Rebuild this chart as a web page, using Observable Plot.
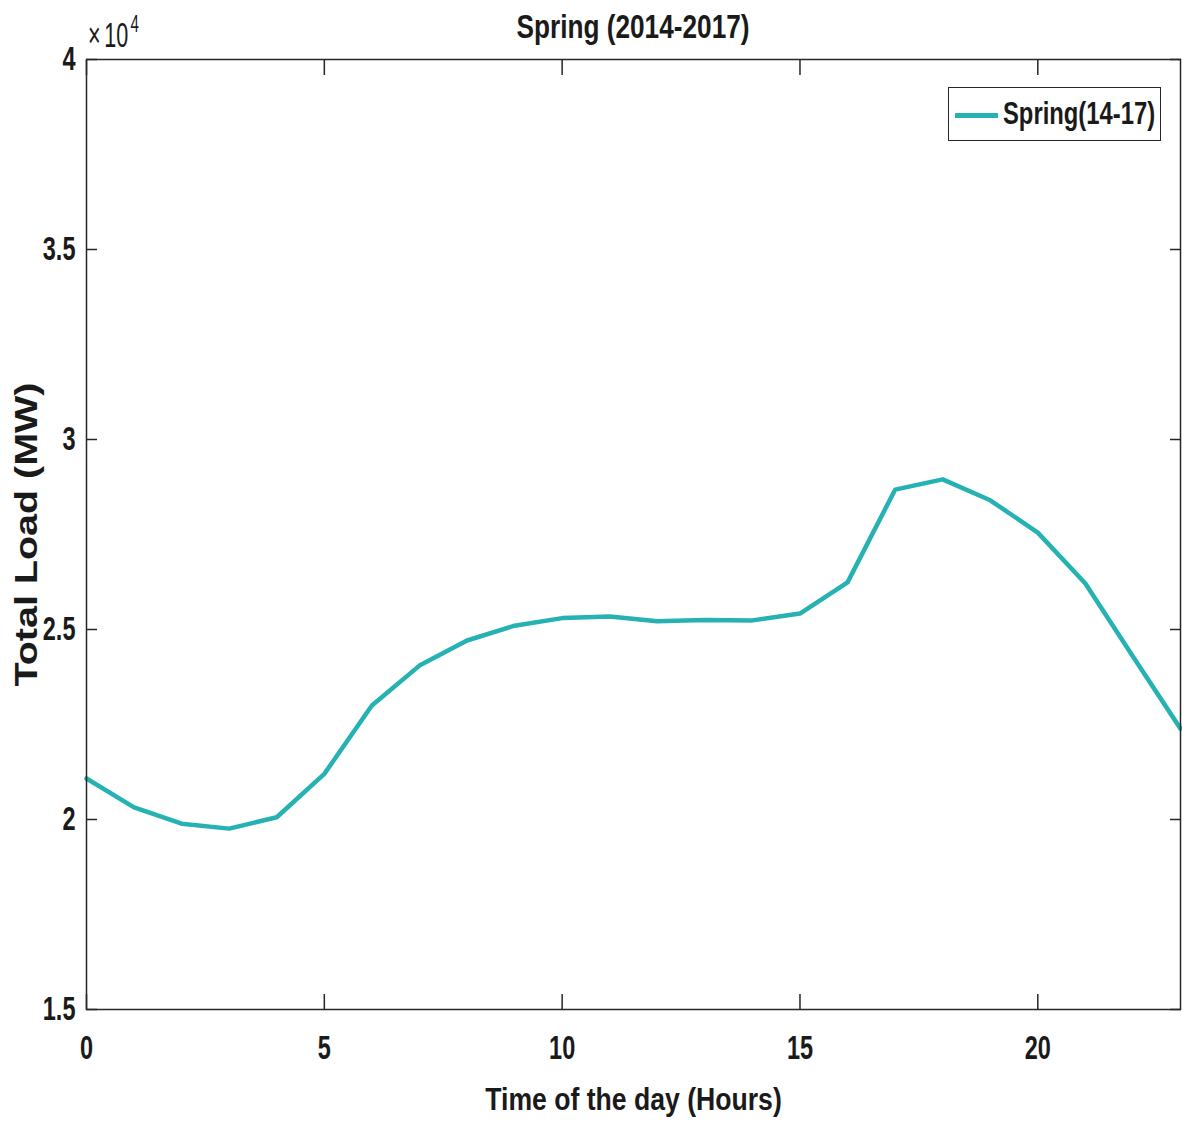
<!DOCTYPE html>
<html>
<head>
<meta charset="utf-8">
<script src="https://cdn.jsdelivr.net/npm/d3@7"></script>
<script src="https://cdn.jsdelivr.net/npm/@observablehq/plot@0.6"></script>
<style>
  body { margin: 0; background: #fff; }
  #wrap { position: relative; width: 1182px; height: 1126px; font-family: "Liberation Sans", Arial, sans-serif; color: #1a1a1a; }
  #title { position: absolute; left: 86px; width: 1094px; top: 13px; text-align: center; font-size: 28px; line-height: 28px; font-weight: bold; transform: scale(0.936, 1.2); transform-origin: center center; white-space: nowrap; }
  #expo { position: absolute; left: 88px; top: 21px; font-size: 30px; line-height: 30px; font-weight: normal; transform: scale(0.72, 1.15); transform-origin: left center; white-space: nowrap; }
  #expo .x { margin-right: 5px; }
  #expo .pw { font-size: 21px; position: relative; top: -13px; margin-left: 3px; }
  #legend { position: absolute; left: 948px; top: 87px; width: 213px; height: 54px; box-sizing: border-box; border: 1.5px solid #262626; background: #fff; }
  #legend .swatch { position: absolute; left: 6px; top: 25px; width: 43px; height: 4.5px; }
  #legend .lab { position: absolute; left: 54px; top: 12px; font-size: 28px; line-height: 28px; font-weight: bold; transform: scale(0.85, 1.15); transform-origin: left center; white-space: nowrap; }
</style>
</head>
<body>
<div id="wrap"></div>
<script>
// ---- data ----
const hours = [0, 1, 2, 3, 4, 5, 6, 7, 8, 9, 10, 11, 12, 13, 14, 15, 16, 17, 18, 19, 20, 21, 22, 23];
const springLoad = [21080, 20320, 19890, 19760, 20060, 21200, 23000, 24050, 24710, 25100, 25300, 25340,
                    25220, 25250, 25240, 25420, 26240, 28680, 28950, 28400, 27550, 26210, 24290, 22390];
const xTicks = [0, 5, 10, 15, 20];
const yTicks = [15000, 20000, 25000, 30000, 35000, 40000];
const xDomain = [0, 23];
const yDomain = [15000, 40000];
const titleText = "Spring (2014-2017)";
const xLabel = "Time of the day (Hours)";
const yLabel = "Total Load (MW)";
const seriesName = "Spring(14-17)";
const exponentBase = "10";
const exponentPower = "4";
const lineColor = "#26b2b2";
const axisColor = "#262626";

const rows = hours.map((h, i) => ({hour: h, load: springLoad[i]}));
const yFmt = d => String(d / 1e4);

const plot = Plot.plot({
  width: 1182,
  height: 1126,
  marginLeft: 86,
  marginRight: 2,
  marginTop: 59,
  marginBottom: 117,
  style: {fontFamily: '"Liberation Sans", Arial, sans-serif', fontSize: "28px", fontWeight: "bold", background: "#fff", color: "#1a1a1a", overflow: "visible"},
  x: {domain: xDomain},
  y: {domain: yDomain},
  marks: [
    Plot.line(rows, {x: "hour", y: "load", stroke: lineColor, strokeWidth: 4.5, strokeLinejoin: "round"}),
    // inward ticks, mirrored on all sides
    Plot.axisX(xTicks, {anchor: "bottom", tickSize: -15, tickFormat: () => "", label: null, stroke: axisColor, strokeWidth: 1.5}),
    Plot.axisX(xTicks, {anchor: "top", tickSize: -15, tickFormat: () => "", label: null, stroke: axisColor, strokeWidth: 1.5}),
    Plot.axisY(yTicks, {anchor: "left", tickSize: -11, tickFormat: () => "", label: null, stroke: axisColor, strokeWidth: 1.5}),
    Plot.axisY(yTicks, {anchor: "right", tickSize: -11, tickFormat: () => "", label: null, stroke: axisColor, strokeWidth: 1.5}),
    // labels
    Plot.axisX(xTicks, {anchor: "bottom", tickSize: 0, tickPadding: 26, label: xLabel, labelAnchor: "center", labelArrow: "none", labelOffset: 100}),
    Plot.axisY(yTicks, {anchor: "left", tickSize: 0, tickPadding: 11, tickFormat: yFmt, label: yLabel, labelAnchor: "center", labelArrow: "none", labelOffset: 71}),
    Plot.frame({stroke: axisColor, strokeWidth: 1.5})
  ]
});

// condensed / stretched text, like the reference's font
function squash(t, sx, sy) {
  let tr = t.getAttribute("transform");
  if (!tr) {
    const x = +t.getAttribute("x") || 0, y = +t.getAttribute("y") || 0;
    t.removeAttribute("x"); t.removeAttribute("y");
    tr = `translate(${x},${y})`;
  }
  t.setAttribute("transform", `${tr} scale(${sx},${sy})`);
}
plot.querySelectorAll("text").forEach(t => {
  const g = t.closest("g[aria-label]");
  const role = g ? g.getAttribute("aria-label") : "";
  if (!t.textContent) return;
  if (role === "x-axis tick label") squash(t, 0.84, 1.2);
  else if (role === "y-axis tick label") squash(t, 0.84, 1.2);
  else if (role === "x-axis label") squash(t, 0.95, 1.1);
  else if (role === "y-axis label") squash(t, 1.41, 1.1);
});

const wrap = document.getElementById("wrap");
wrap.appendChild(plot);

const title = document.createElement("div");
title.id = "title";
title.textContent = titleText;
wrap.appendChild(title);

const expo = document.createElement("div");
expo.id = "expo";
expo.innerHTML = `<span class="x">×</span>${exponentBase}<span class="pw">${exponentPower}</span>`;
wrap.appendChild(expo);

const legend = document.createElement("div");
legend.id = "legend";
legend.innerHTML = `<div class="swatch" style="background:${lineColor}"></div><span class="lab">${seriesName}</span>`;
wrap.appendChild(legend);
</script>
</body>
</html>
